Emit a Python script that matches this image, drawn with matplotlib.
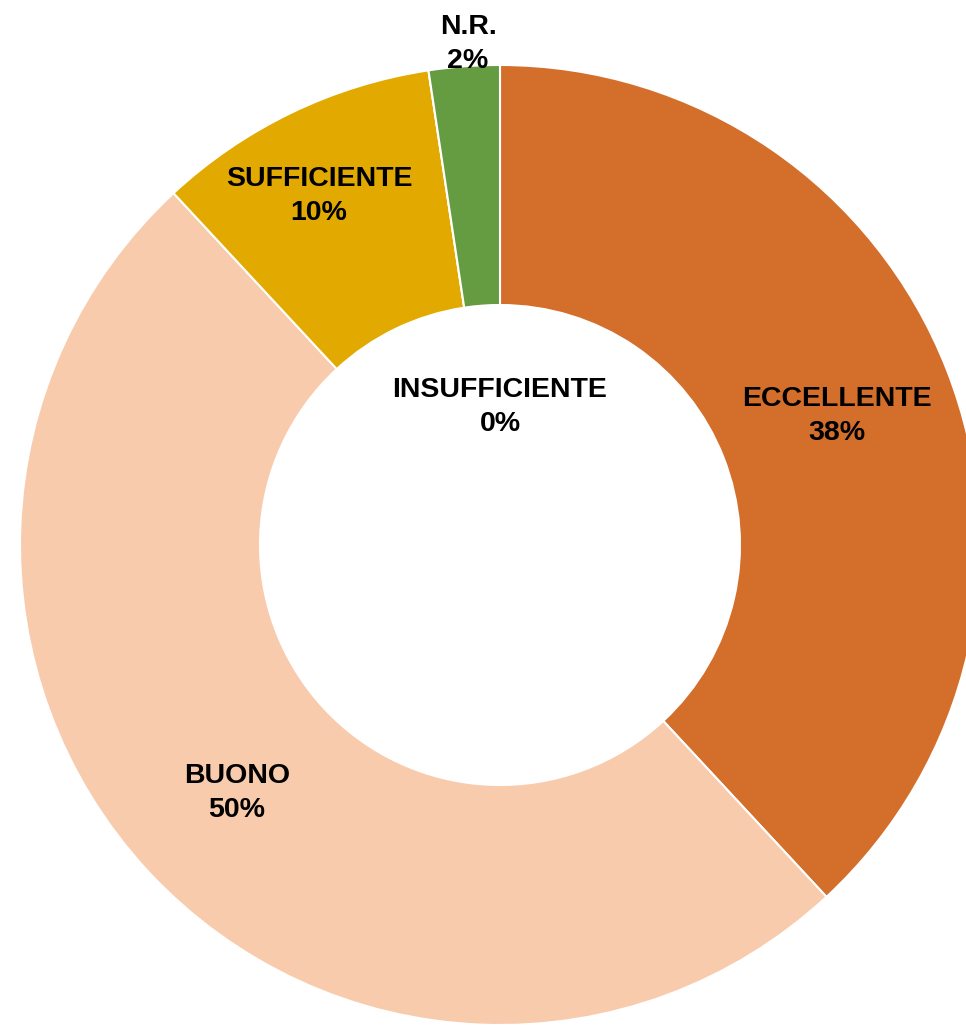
import matplotlib
matplotlib.use('Agg')
import matplotlib.pyplot as plt

categorie = ['ECCELLENTE', 'BUONO', 'SUFFICIENTE', 'INSUFFICIENTE', 'N.R.']
conteggi = [16, 21, 4, 0, 1]
colori = ['#D36E2B', '#F8CBAD', '#E2AA00', '#A5A5A5', '#659B41']
# posizione delle etichette (pixel, origine in basso a sinistra)
pos_etichette = [(837, 609), (237, 232), (319, 829), (500, 618), (468, 981)]

totale = sum(conteggi)
percentuali = [round(100 * c / totale) for c in conteggi]

fig = plt.figure(figsize=(9.66, 10.25), dpi=100)
ax = fig.add_axes([0, 0, 1, 1])
ax.pie(conteggi, colors=colori, startangle=90, counterclock=False,
       center=(500, 480), radius=480, frame=True,
       wedgeprops=dict(width=240, edgecolor='white', linewidth=1.5))
ax.set_xlim(0, 966)
ax.set_ylim(0, 1025)
ax.set_aspect('equal')
ax.axis('off')

for nome, p, (x, y) in zip(categorie, percentuali, pos_etichette):
    ax.text(x, y, f"{nome}\n{p}%", ha='center', va='center', fontsize=20.5,
            fontweight='bold', family=['Liberation Sans', 'DejaVu Sans'],
            linespacing=1.4)

fig.savefig('out.png', dpi=100)
